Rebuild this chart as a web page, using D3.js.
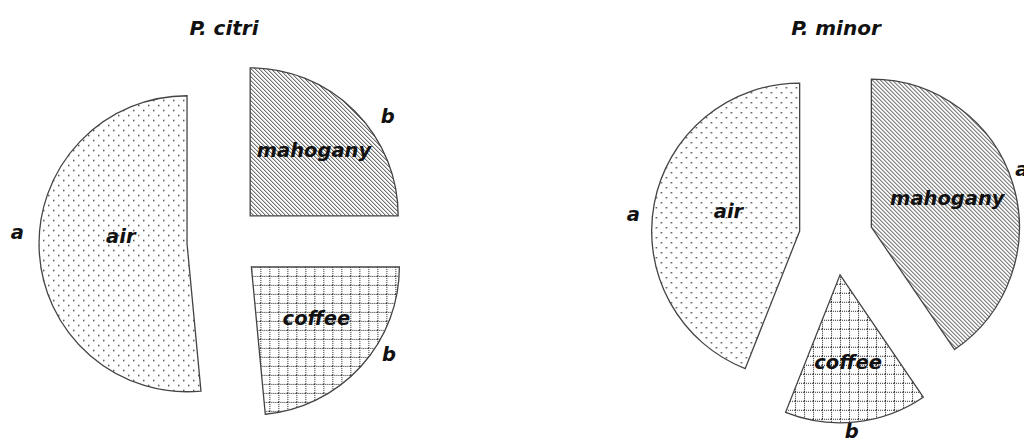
<!DOCTYPE html>
<html>
<head>
<meta charset="utf-8">
<style>
  body { margin: 0; background: #fff; }
  text { font-family: "DejaVu Sans", sans-serif; font-weight: bold; font-style: italic; fill: #111; }
</style>
</head>
<body>
<script src="https://cdn.jsdelivr.net/npm/d3@7"></script>
<script>
// data (percent of insects), slice order clockwise from 12 o'clock
var categories = ["mahogany", "coffee", "air"];
var titles = ["P. citri", "P. minor"];
var citriValues = [25, 23.5, 51.5];
var minorValues = [40.5, 15.5, 44];
var citriLetters = ["b", "b", "a"];
var minorLetters = ["a", "b", "a"];

var width = 1024, height = 439;
var R = 148, explode = 37;

// layout: label placement (radius ratio, angle nudge in degrees) per slice
var charts = [
  { title: titles[0], values: citriValues, letters: citriLetters, cx: 224, cy: 242,
    lab: [[0.62, -1], [0.56, -4], [0.45, 9]], let: [[1.15, 9], [1.10, -10], [1.15, 6.5]] },
  { title: titles[1], values: minorValues, letters: minorLetters, cx: 836, cy: 238,
    lab: [[0.55, -4], [0.59, 1], [0.50, 5]], let: [[1.09, -4], [1.06, 2], [1.13, -5]] }
];

var svg = d3.select("body").append("svg")
    .attr("width", width)
    .attr("height", height)
    .attr("viewBox", [0, 0, width, height]);

var defs = svg.append("defs");

// dotted fill (air)
var pDots = defs.append("pattern").attr("id", "dots")
    .attr("patternUnits", "userSpaceOnUse").attr("width", 10).attr("height", 10);
pDots.append("rect").attr("x", 1).attr("y", 1).attr("width", 1.4).attr("height", 1.4).attr("fill", "#333");
pDots.append("rect").attr("x", 6).attr("y", 6).attr("width", 1.4).attr("height", 1.4).attr("fill", "#333");

// dotted grid (coffee)
var pGrid = defs.append("pattern").attr("id", "grid")
    .attr("patternUnits", "userSpaceOnUse").attr("width", 9).attr("height", 9);
pGrid.append("path").attr("d", "M0.5,0 V9 M0,0.5 H9")
    .attr("stroke", "#222").attr("stroke-width", 1).attr("stroke-dasharray", "1,1").attr("fill", "none");

// diagonal hatch (mahogany)
var pHatch = defs.append("pattern").attr("id", "hatch")
    .attr("patternUnits", "userSpaceOnUse").attr("width", 4).attr("height", 4);
pHatch.append("path").attr("d", "M-1,-1 L5,5 M-1,3 L1,5 M3,-1 L5,1")
    .attr("stroke", "#333").attr("stroke-width", 1);

var fills = { air: "url(#dots)", coffee: "url(#grid)", mahogany: "url(#hatch)" };

var pie = d3.pie().sort(null).value(d => d.value);
var arc = d3.arc().innerRadius(0).outerRadius(R);

function polar(a, r) { return [Math.sin(a) * r, -Math.cos(a) * r]; }

charts.forEach(function (c) {
  var g = svg.append("g").attr("transform", `translate(${c.cx},${c.cy})`);
  var arcs = pie(categories.map((k, i) => ({ name: k, value: c.values[i], letter: c.letters[i] })));

  var slice = g.selectAll("g.slice")
    .data(arcs)
    .join("g")
      .attr("class", "slice")
      .attr("transform", d => {
        var p = polar((d.startAngle + d.endAngle) / 2, explode);
        return `translate(${p[0]},${p[1]})`;
      });

  slice.append("path")
      .attr("d", arc)
      .attr("fill", d => fills[d.data.name])
      .attr("stroke", "#444")
      .attr("stroke-width", 1.3);

  slice.append("text")
      .attr("text-anchor", "middle")
      .attr("dy", "0.35em")
      .attr("font-size", 19.5)
      .attr("transform", (d, i) => {
        var p = polar((d.startAngle + d.endAngle) / 2 + c.lab[i][1] * Math.PI / 180, R * c.lab[i][0]);
        return `translate(${p[0]},${p[1]})`;
      })
      .text(d => d.data.name);

  slice.append("text")
      .attr("text-anchor", "middle")
      .attr("dy", "0.35em")
      .attr("font-size", 19.5)
      .attr("transform", (d, i) => {
        var p = polar((d.startAngle + d.endAngle) / 2 + c.let[i][1] * Math.PI / 180, R * c.let[i][0]);
        return `translate(${p[0]},${p[1]})`;
      })
      .text(d => d.data.letter);

  svg.append("text")
      .attr("x", c.cx)
      .attr("y", 28)
      .attr("dy", "0.35em")
      .attr("text-anchor", "middle")
      .attr("font-size", 20)
      .text(c.title);
});
</script>
</body>
</html>
